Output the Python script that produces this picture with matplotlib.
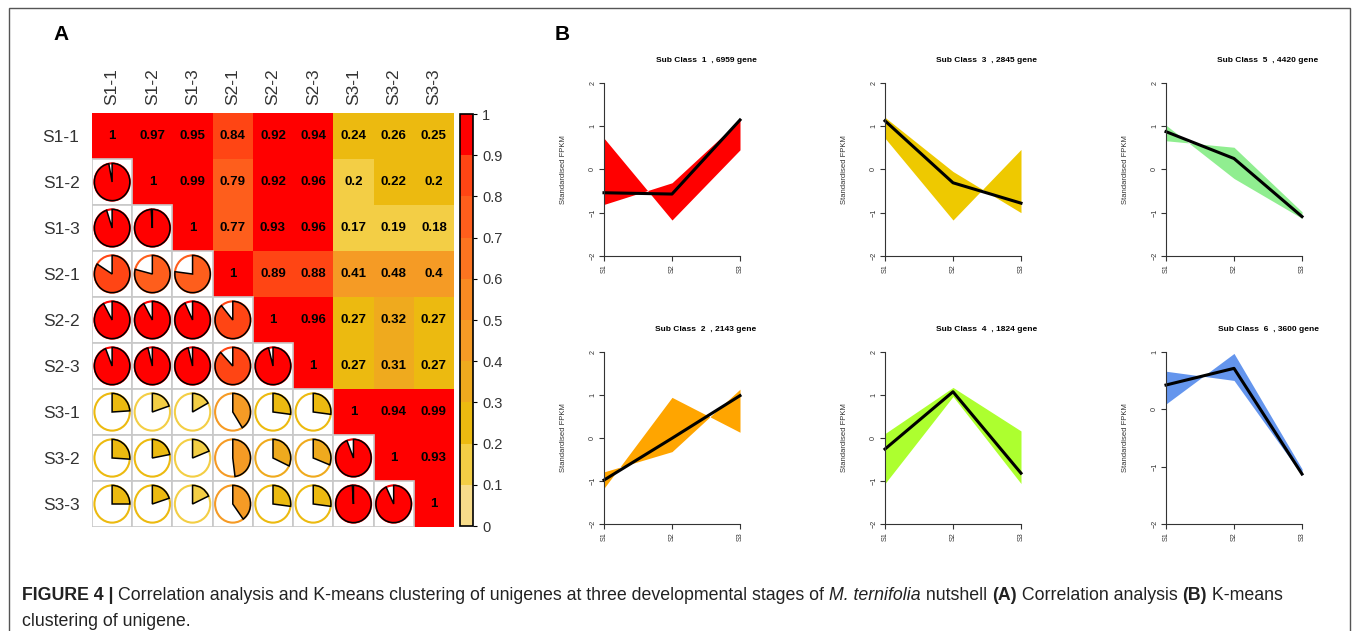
import numpy as np
import matplotlib as mpl
import matplotlib.pyplot as plt
from matplotlib.patches import Rectangle, Wedge, Ellipse
from matplotlib.colors import ListedColormap, BoundaryNorm
from matplotlib.transforms import Affine2D

plt.rcParams['font.family'] = ['Liberation Sans', 'DejaVu Sans']

W, H = 1355, 631

# ---- panel A data: correlation between samples
samples = ['S1-1', 'S1-2', 'S1-3', 'S2-1', 'S2-2', 'S2-3', 'S3-1', 'S3-2', 'S3-3']
corr = [
    [1.00, 0.97, 0.95, 0.84, 0.92, 0.94, 0.24, 0.26, 0.25],
    [0.97, 1.00, 0.99, 0.79, 0.92, 0.96, 0.198, 0.22, 0.20],
    [0.95, 0.99, 1.00, 0.77, 0.93, 0.96, 0.17, 0.19, 0.18],
    [0.84, 0.79, 0.77, 1.00, 0.89, 0.88, 0.41, 0.48, 0.40],
    [0.92, 0.92, 0.93, 0.89, 1.00, 0.96, 0.27, 0.32, 0.27],
    [0.94, 0.96, 0.96, 0.88, 0.96, 1.00, 0.27, 0.31, 0.27],
    [0.24, 0.198, 0.17, 0.41, 0.27, 0.27, 1.00, 0.94, 0.99],
    [0.26, 0.22, 0.19, 0.48, 0.32, 0.31, 0.94, 1.00, 0.93],
    [0.25, 0.20, 0.18, 0.40, 0.27, 0.27, 0.99, 0.93, 1.00],
]
bin_colors = ['#F7DC8A', '#F3CE45', '#ECBA10', '#EFAA1E', '#F59B25',
              '#F88A22', '#FB7420', '#FE5E1C', '#FF4514', '#FF0000']
cbar_ticks = [0, 0.1, 0.2, 0.3, 0.4, 0.5, 0.6, 0.7, 0.8, 0.9, 1]

# ---- panel B data: k-means sub classes
stages = ['S1', 'S2', 'S3']
sub_ids = [1, 3, 5, 2, 4, 6]
gene_counts = [6959, 2845, 4420, 2143, 1824, 3600]
fill_colors = ['#FF0000', '#EEC900', '#90EE90', '#FFA500', '#ADFF2F', '#6495ED']
mean_vals = [[-0.54, -0.57, 1.14], [1.12, -0.31, -0.78], [0.87, 0.25, -1.09],
             [-0.98, -0.01, 0.98], [-0.26, 1.07, -0.82], [0.42, 0.71, -1.13]]
env_a = [[0.72, -1.17, 0.45], [1.20, -0.05, -1.00], [1.02, -0.21, -1.13],
         [-1.17, 0.94, 0.13], [0.10, 1.17, 0.16], [0.66, 0.50, -1.15]]
env_b = [[-0.81, -0.31, 1.14], [0.72, -1.17, 0.46], [0.66, 0.51, -0.98],
         [-0.79, -0.32, 1.13], [-1.06, 0.96, -1.06], [0.09, 0.97, -1.04]]
y_limits = [(-2, 2), (-2, 2), (-2, 2), (-2, 2), (-2, 2), (-2, 1)]


def box(x0, y0, x1, y1):
    return [x0 / W, 1 - y1 / H, (x1 - x0) / W, (y1 - y0) / H]


fig = plt.figure(figsize=(W / 100, H / 100), dpi=100)

# outer frame
fig.patches.append(Rectangle((9 / W, -0.01), 1341 / W, 1 - 8 / H + 0.01,
                             transform=fig.transFigure, fill=False,
                             ec='#555555', lw=1))

# ---- panel A
ax = fig.add_axes(box(92, 113, 454, 527))
n = len(samples)
mat = np.array(corr)
cmap = ListedColormap(bin_colors)
norm = BoundaryNorm(np.linspace(0, 1, 11), 10)
upper = np.ma.masked_where(np.tril(np.ones((n, n)), -1).astype(bool), mat)
ax.pcolormesh(np.arange(n + 1), np.arange(n + 1), upper, cmap=cmap, norm=norm)
ax.set_xlim(0, n)
ax.set_ylim(n, 0)
rx, ry = 0.44, 0.405
for i in range(n):
    for j in range(n):
        v = mat[i, j]
        c = cmap(norm(v))
        if j >= i:
            s = '1' if v == 1 else f'{v:.2f}'.rstrip('0').rstrip('.')
            ax.text(j + 0.5, i + 0.5, s, ha='center', va='center',
                    fontsize=9.5, fontweight='bold', color='black')
        else:
            ax.add_patch(Rectangle((j, i), 1, 1, fc='white', ec='#C8C8C8', lw=1.2))
            tr = Affine2D().scale(rx, -ry).translate(j + 0.5, i + 0.5) + ax.transData
            ax.add_patch(Ellipse((0, 0), 2, 2, fc='none', ec=c, lw=1.5, transform=tr))
            ax.add_patch(Wedge((0, 0), 1, 90 - 360 * v, 90, fc=c, ec='black',
                               lw=1.1, transform=tr))
ax.set_xticks(np.arange(n) + 0.5)
ax.set_xticklabels(samples, rotation=90)
ax.set_yticks(np.arange(n) + 0.5)
ax.set_yticklabels(samples)
ax.xaxis.tick_top()
ax.tick_params(length=0, labelsize=12.5, labelcolor='#333333')
ax.tick_params(axis='x', pad=6)
ax.tick_params(axis='y', pad=9)
for sp in ax.spines.values():
    sp.set_visible(False)

cax = fig.add_axes(box(460, 114, 473, 526))
cb = fig.colorbar(mpl.cm.ScalarMappable(norm=norm, cmap=cmap), cax=cax,
                  ticks=cbar_ticks)
cb.ax.set_yticklabels([f'{t:g}' for t in cbar_ticks])
cb.ax.tick_params(length=3, width=0.8, labelsize=10.5, labelcolor='#333333')
cb.outline.set_linewidth(1.2)

fig.text(53 / W, 1 - 35 / H, 'A', fontsize=15, fontweight='bold', va='center')
fig.text(555 / W, 1 - 35 / H, 'B', fontsize=15, fontweight='bold', va='center')

# ---- panel B
col_x = [(604, 740), (885, 1021), (1166, 1302)]
row_y = [(82.7, 256), (351.7, 524)]
x = np.arange(1, len(stages) + 1)
for k in range(6):
    r, cidx = divmod(k, 3)
    x0, x1 = col_x[cidx]
    y0, y1 = row_y[r]
    a = fig.add_axes(box(x0, y0, x1, y1))
    a.fill_between(x, env_a[k], env_b[k], color=fill_colors[k], lw=0, clip_on=False)
    a.plot(x, mean_vals[k], color='black', lw=2.2, clip_on=False)
    lo, hi = y_limits[k]
    a.set_xlim(1, 3)
    a.set_ylim(lo, hi)
    a.set_xticks(x)
    a.set_xticklabels(stages)
    a.set_yticks(np.arange(lo, hi + 1))
    for sp in ['top', 'right']:
        a.spines[sp].set_visible(False)
    for sp in ['left', 'bottom']:
        a.spines[sp].set_color('#333333')
        a.spines[sp].set_linewidth(0.8)
    a.tick_params(length=3.6, width=0.8, color='#333333', labelsize=5.2,
                  labelcolor='#333333', pad=2)
    a.tick_params(axis='y', labelrotation=90)
    a.tick_params(axis='x', labelrotation=90)
    for lab in a.get_yticklabels():
        lab.set_va('center')
    a.set_ylabel('Standardised FPKM', fontsize=5.5, color='#333333')
    a.yaxis.set_label_coords(-0.27, 0.5)
    a.text(0.75, 1 + 22 / (y1 - y0), f'Sub Class  {sub_ids[k]}  , {gene_counts[k]} gene',
           transform=a.transAxes, ha='center', va='center', fontsize=6,
           fontweight='bold')

# ---- caption
renderer = fig.canvas.get_renderer()
cap_font = ['Liberation Sans', 'DejaVu Sans']
pieces = [('FIGURE 4 | ', 'bold', 'normal'),
          ('Correlation analysis and K-means clustering of unigenes at three '
           'developmental stages of ', 'normal', 'normal'),
          ('M. ternifolia', 'normal', 'italic'),
          (' nutshell ', 'normal', 'normal'),
          ('(A)', 'bold', 'normal'),
          (' Correlation analysis ', 'normal', 'normal'),
          ('(B)', 'bold', 'normal'),
          (' K-means', 'normal', 'normal')]
xpos = 22
for s, wt, st in pieces:
    t = fig.text(xpos / W, 1 - 595 / H, s, fontsize=12.8, fontweight=wt,
                 style=st, family=cap_font, va='center', color='#222222')
    xpos += t.get_window_extent(renderer).width
fig.text(22 / W, 1 - 621 / H, 'clustering of unigene.', fontsize=12.8,
         family=cap_font, va='center', color='#222222')

fig.savefig('out.png', dpi=100)
